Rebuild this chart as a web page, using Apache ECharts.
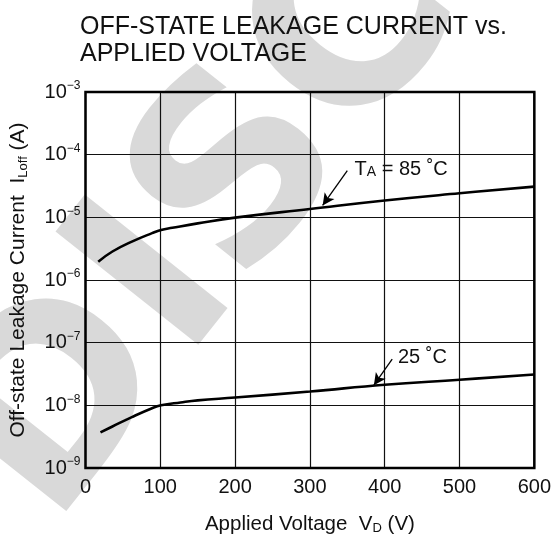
<!DOCTYPE html>
<html>
<head>
<meta charset="utf-8">
<script src="https://cdn.jsdelivr.net/npm/echarts@6/dist/echarts.min.js"></script>
<style>html,body{margin:0;padding:0;background:#fff;}#c{width:554px;height:543px;}</style>
</head>
<body>
<div id="c"></div>
<script>
// ---- data ----
const titleText = 'OFF-STATE LEAKAGE CURRENT vs.\nAPPLIED VOLTAGE';
const xTicks = [0, 100, 200, 300, 400, 500, 600];
const yTickExponents = [-9, -8, -7, -6, -5, -4, -3];
const x85 = [17, 36, 62, 89, 101, 116, 150, 200, 300, 400, 500, 600];
const y85 = [1.96e-6, 2.85e-6, 4.1e-6, 5.6e-6, 6.3e-6, 6.8e-6, 8.0e-6, 9.9e-6, 1.36e-5, 1.86e-5, 2.42e-5, 3.09e-5];
const x25 = [20, 36, 62, 89, 101, 127, 150, 200, 300, 400, 500, 600];
const y25 = [3.7e-9, 4.6e-9, 6.5e-9, 9.0e-9, 1.0e-8, 1.11e-8, 1.2e-8, 1.33e-8, 1.66e-8, 2.13e-8, 2.56e-8, 3.1e-8];
const label85 = ['T', 'A', ' = 85 ˚C'];
const label25 = '25 ˚C';
const watermarkLetters = ['D', 'I', 'S', 'C'];

const FONT = 'Liberation Sans, Arial, sans-serif';
const zip = (xs, ys) => xs.map((x, i) => [x, ys[i]]);

// watermark letters along a rotated baseline (decoration only)
const wmOffsets = [-155, 0, 136, 318];
const wmChildren = watermarkLetters.map((ch, i) => ({
  type: 'text', x: wmOffsets[i], y: 0, silent: true,
  style: {text: ch, font: 'bold 250px DejaVu Sans, sans-serif', fill: '#d9d9d9', align: 'center', verticalAlign: 'middle'}
}));

const chart = echarts.init(document.getElementById('c'), null, {renderer: 'canvas'});
const arrowLine = {color: '#000', width: 1.3, type: 'solid'};

chart.setOption({
  animation: false,
  backgroundColor: '#fff',
  title: {
    text: titleText,
    left: 75, top: 9,
    textStyle: {fontFamily: FONT, fontSize: 25, fontWeight: 'normal', color: '#111', lineHeight: 27}
  },
  graphic: [{
    type: 'group', z: -10, silent: true,
    x: 162, y: 286, rotation: 0.9,
    children: wmChildren
  }],
  grid: {left: 83, right: 19, top: 92, bottom: 75, show: true, borderColor: '#000', borderWidth: 2.5, backgroundColor: 'transparent', z: 3},
  xAxis: {
    type: 'value', min: xTicks[0], max: xTicks[xTicks.length - 1], interval: 100,
    axisLine: {show: false}, axisTick: {show: false},
    splitLine: {show: true, lineStyle: {color: '#111', width: 1.2}},
    axisLabel: {fontFamily: FONT, fontSize: 20, color: '#111', margin: 9,
      formatter: v => xTicks.includes(v) ? String(v) : ''},
    name: '{n|Applied Voltage  V}{s|D}{n| (V)}',
    nameLocation: 'middle', nameGap: 46,
    nameTextStyle: {fontFamily: FONT, color: '#111',
      rich: {n: {fontFamily: FONT, fontSize: 20.5, color: '#111', lineHeight: 21},
             s: {fontFamily: FONT, fontSize: 13, color: '#111', lineHeight: 14, verticalAlign: 'bottom'}}}
  },
  yAxis: {
    type: 'log', logBase: 10, min: Math.pow(10, yTickExponents[0]), max: Math.pow(10, yTickExponents[yTickExponents.length - 1]),
    interval: 1,
    axisLine: {show: false}, axisTick: {show: false},
    splitLine: {show: true, lineStyle: {color: '#111', width: 1.2}},
    axisLabel: {margin: 5, fontFamily: FONT,
      formatter: v => {
        const e = Math.round(Math.log10(v));
        return yTickExponents.includes(e) ? '{b|10}{s|−' + Math.abs(e) + '}' : '';
      },
      rich: {b: {fontFamily: FONT, fontSize: 20, color: '#111', lineHeight: 24},
             s: {fontFamily: FONT, fontSize: 12, color: '#111', lineHeight: 12, verticalAlign: 'top'}}},
    name: '{n|Off-state Leakage Current  I}{s|Loff}{n| (A)}',
    nameLocation: 'middle', nameRotate: 90, nameGap: 56,
    nameTextStyle: {fontFamily: FONT, color: '#111',
      rich: {n: {fontFamily: FONT, fontSize: 21, color: '#111', lineHeight: 22},
             s: {fontFamily: FONT, fontSize: 13, color: '#111', lineHeight: 14, verticalAlign: 'bottom'}}}
  },
  series: [
    {
      type: 'line', name: '85', data: zip(x85, y85), smooth: 0.45, symbol: 'none',
      lineStyle: {color: '#000', width: 2.6}, z: 5,
      markLine: {silent: true, symbol: ['none', 'arrow'], symbolSize: [9, 12], lineStyle: arrowLine, label: {show: false},
        data: [[{coord: [350, 5.56e-5]}, {coord: [317, 1.55e-5]}]]},
      markPoint: {silent: true, symbol: 'circle', symbolSize: 1, itemStyle: {color: 'rgba(0,0,0,0)'},
        data: [{coord: [359, 5.9e-5],
          label: {show: true, position: 'right', distance: 0,
            formatter: '{n|' + label85[0] + '}{s|' + label85[1] + '}{n|' + label85[2] + '}',
            rich: {n: {fontFamily: FONT, fontSize: 20, color: '#111', lineHeight: 20},
                   s: {fontFamily: FONT, fontSize: 14, color: '#111', lineHeight: 15, verticalAlign: 'bottom'}}}}]}
    },
    {
      type: 'line', name: '25', data: zip(x25, y25), smooth: 0.45, symbol: 'none',
      lineStyle: {color: '#000', width: 2.6}, z: 5,
      markLine: {silent: true, symbol: ['none', 'arrow'], symbolSize: [9, 12], lineStyle: arrowLine, label: {show: false},
        data: [[{coord: [410, 5.46e-8]}, {coord: [385.5, 2.1e-8]}]]},
      markPoint: {silent: true, symbol: 'circle', symbolSize: 1, itemStyle: {color: 'rgba(0,0,0,0)'},
        data: [{coord: [417, 5.73e-8],
          label: {show: true, position: 'right', distance: 0, formatter: label25,
            fontFamily: FONT, fontSize: 20, color: '#111'}}]}
    }
  ]
});
</script>
</body>
</html>
